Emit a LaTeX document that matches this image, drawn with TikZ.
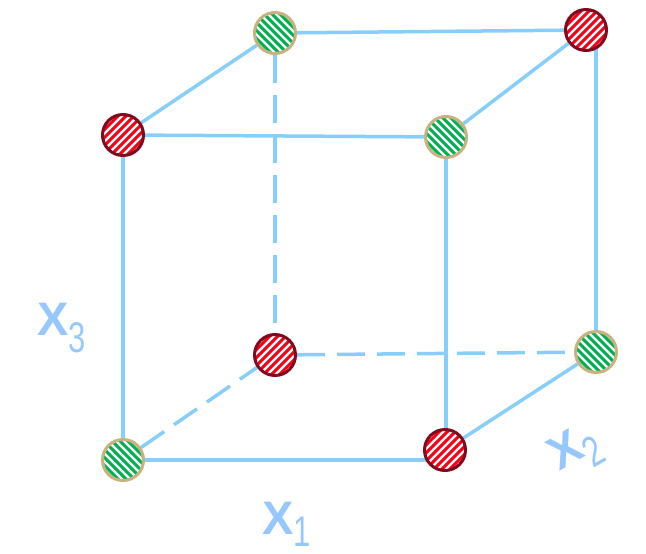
\documentclass[tikz,border=0pt]{standalone}
\usepackage{fontspec}
\setmainfont{Liberation Sans}
\definecolor{edgeblue}{RGB}{135,206,250}
\definecolor{labblue}{RGB}{150,200,255}
\definecolor{rfill}{RGB}{245,0,20}
\definecolor{rborder}{RGB}{130,10,30}
\definecolor{gfill}{RGB}{0,176,80}
\definecolor{gborder}{RGB}{200,178,128}
\pgfdeclarelayer{background}
\pgfsetlayers{background,main}
\tikzset{
  ball/.style={circle, minimum size=41pt, inner sep=0pt, line width=3pt, fill=white},
  redball/.style={ball, draw=rborder, path picture={
      \foreach \i in {-40,-32,...,40}
        \draw[rfill, line width=3pt] ([shift={(\i-30,30)}]path picture bounding box.center) -- ++(60,-60);}},
  greenball/.style={ball, draw=gborder, path picture={
      \foreach \i in {-40,-32,...,40}
        \draw[gfill, line width=3pt] ([shift={(\i-30,-30)}]path picture bounding box.center) -- ++(60,60);}},
  edge/.style={edgeblue, line width=3.5pt},
  hidden/.style={edge, dash pattern=on 28pt off 12pt},
  lab/.style={labblue, inner sep=0pt},
}
\newcommand{\labtext}[2]{{\fontsize{47}{47}\selectfont\bfseries X}\raisebox{-#2}{\fontsize{43}{43}\selectfont\scalebox{0.72}[1]{#1}}}
\begin{document}
\begin{tikzpicture}[x=1pt,y=-1pt]
\useasboundingbox (0,0) rectangle (646,554);
% front face
\node[redball]   (ftl) at (123,135) {};
\node[greenball] (ftr) at (446,137) {};
\node[greenball] (fbl) at (123,460) {};
\node[redball]   (fbr) at (445,450) {};
% back face
\node[greenball] (btl) at (275,33) {};
\node[redball]   (btr) at (586,30) {};
\node[redball]   (bbl) at (275,355) {};
\node[greenball] (bbr) at (596,352) {};
\begin{pgfonlayer}{background}
% visible edges
\draw[edge] (ftl) -- (ftr);
\draw[edge] (ftl) -- (fbl);
\draw[edge] (fbl) -- (fbl -| fbr);
\draw[edge] (ftr) -- (ftr |- fbr);
\draw[edge] (btl) -- (btr);
\draw[edge] (bbr) -- (bbr |- btr);
\draw[edge] (ftl) -- (btl);
\draw[edge] (ftr) -- (btr);
\draw[edge] (fbr) -- (bbr);
% hidden edges
\draw[hidden] (btl) -- (bbl);
\draw[hidden] (bbl) -- (bbr);
\draw[hidden] (fbl) -- (bbl);
\end{pgfonlayer}
% labels
\node[lab, anchor=base west] (l3) at (37,335) {\labtext{3}{17pt}};
\node[lab, anchor=base west] (l1) at (262,534) {\labtext{1}{12pt}};
\node[lab, anchor=base west, rotate=30] (l2) at (559,472) {\labtext{2}{14pt}};
\end{tikzpicture}
\end{document}
